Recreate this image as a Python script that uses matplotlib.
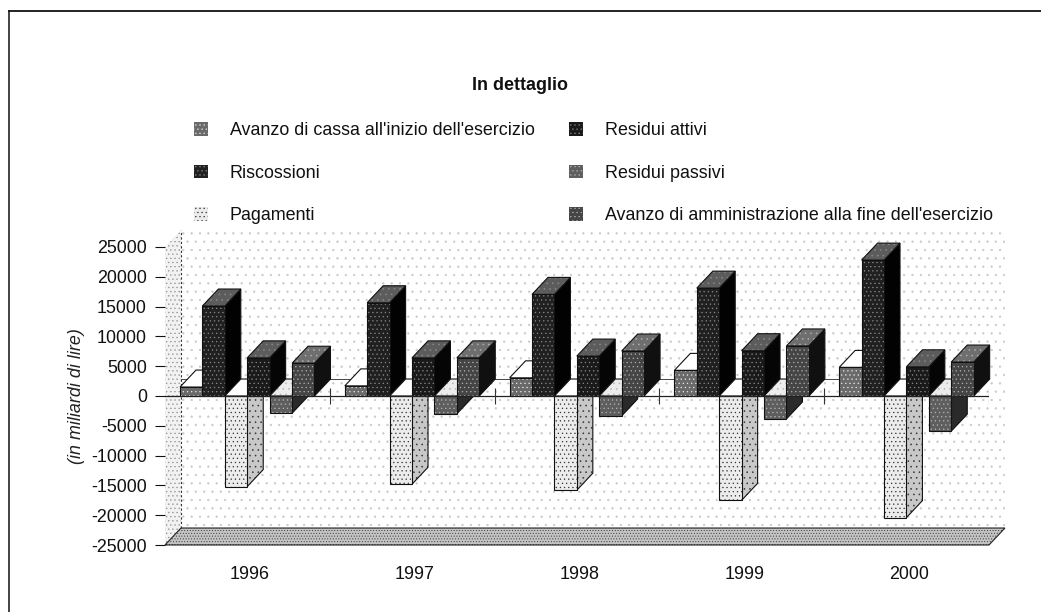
#grafico a barre 3D finto: ogni barra e' fatta con fronte, lato e tetto
import matplotlib
matplotlib.use("Agg")
import matplotlib.pyplot as plt
from matplotlib.patches import Polygon, Patch
from matplotlib.lines import Line2D

plt.rcParams['font.family'] = ['Liberation Sans', 'DejaVu Sans']
plt.rcParams['hatch.linewidth'] = 0.4
plt.rcParams['axes.unicode_minus'] = False

anni = ["1996", "1997", "1998", "1999", "2000"]
avanzo_cassa = [1500, 1700, 3050, 4300, 4800]
riscossioni = [15100, 15650, 17050, 18100, 22800]
pagamenti = [-15200, -14800, -15800, -17500, -20400]
residui_attivi = [6400, 6400, 6700, 7600, 4900]
residui_passivi = [-2900, -3000, -3350, -3850, -5900]
avanzo_amm = [5500, 6400, 7550, 8400, 5700]

nomi = ["Avanzo di cassa all'inizio dell'esercizio", "Riscossioni", "Pagamenti",
        "Residui attivi", "Residui passivi", "Avanzo di amministrazione alla fine dell'esercizio"]
serie = [avanzo_cassa, riscossioni, pagamenti, residui_attivi, residui_passivi, avanzo_amm]
#colori: fronte, lato, tetto, puntini
stili = [("#6a6a6a", "#3c3c3c", "#ffffff", "#e8e8e8"),
         ("#202020", "#020202", "#5c5c5c", "#8a8a8a"),
         ("#ececec", "#c8c8c8", "#ffffff", "#333333"),
         ("#1a1a1a", "#050505", "#5c5c5c", "#8a8a8a"),
         ("#5e5e5e", "#2a2a2a", "#ececec", "#b5b5b5"),
         ("#454545", "#101010", "#6e6e6e", "#b0b0b0")]

LARG = 0.136   #larghezza barra
MARGINE = 0.091
PROF_X = 0.097  #profondita' finta in x
PROF_Y = 2850   #profondita' finta in y
FONT = 12.9

fig = plt.figure(figsize=(10.41, 6.12), dpi=100)
ax = fig.add_axes([165 / 1041, 1 - 545 / 612, 824 / 1041, 298 / 612])
ax.set_xlim(0, 5)
ax.set_ylim(-25000, 25000)

def faccia(punti, colore, puntini, trama="....", bordo="none", z=2):
    ax.add_patch(Polygon(punti, closed=True, facecolor=colore, edgecolor=puntini, hatch=trama,
                         linewidth=0, zorder=z, clip_on=False))
    if bordo != "none":
        ax.add_patch(Polygon(punti, closed=True, facecolor="none", edgecolor=bordo, linewidth=0.8,
                             zorder=z, clip_on=False))

def barra(x, valore, stile, z):
    fronte, lato, tetto, puntini = stile
    cima = max(valore, 0)
    fondo = min(valore, 0)
    bordo = "#111111"
    faccia([(x + LARG, fondo), (x + LARG + PROF_X, fondo + PROF_Y), (x + LARG + PROF_X, cima + PROF_Y),
            (x + LARG, cima)], lato, puntini if fronte == "#ececec" else lato, "...", bordo, z)
    faccia([(x, cima), (x + PROF_X, cima + PROF_Y), (x + LARG + PROF_X, cima + PROF_Y),
            (x + LARG, cima)], tetto, puntini if tetto != "#ffffff" else "#ffffff", "...", bordo, z)
    faccia([(x, fondo), (x, cima), (x + LARG, cima), (x + LARG, fondo)], fronte, puntini, "....", bordo, z)

#pareti e pavimento
faccia([(PROF_X, -25000 + PROF_Y), (PROF_X, 25000 + PROF_Y), (5 + PROF_X, 25000 + PROF_Y),
        (5 + PROF_X, -25000 + PROF_Y)], "#ffffff", "#c8c8c8", "..", z=0)
faccia([(0, -25000), (0, 25000), (PROF_X, 25000 + PROF_Y), (PROF_X, -25000 + PROF_Y)],
       "#f2f2f2", "#8c8c8c", "....", z=0)
faccia([(0, -25000), (PROF_X, -25000 + PROF_Y), (5 + PROF_X, -25000 + PROF_Y), (5, -25000)],
       "#c4c4c4", "#3a3a3a", "......", "#222222", z=1)
ax.plot([PROF_X, PROF_X], [-25000 + PROF_Y, 25000 + PROF_Y], color="#333333", lw=0.8, ls=(0, (2, 2)),
        zorder=1, clip_on=False)
ax.plot([PROF_X, 5], [PROF_Y, PROF_Y], color="#444444", lw=0.7, zorder=1, clip_on=False)

for i in range(len(anni)):
    for s in range(len(serie)):
        barra(i + MARGINE + s * LARG, serie[s][i], stili[s], 3)

#asse dello zero e tacche sulle categorie
ax.axhline(0, color="#222222", lw=0.9, zorder=4)
ax.vlines(range(1, 6), -1300, 1300, color="#333333", lw=0.8, zorder=4)

for lato_ax in ax.spines.values():
    lato_ax.set_visible(False)
ax.set_yticks(range(-25000, 25001, 5000))
ax.set_xticks([i + 0.515 for i in range(len(anni))])
ax.set_xticklabels(anni)
ax.tick_params(axis="x", length=0, pad=15, labelsize=FONT, colors="#111111")
ax.tick_params(axis="y", length=7.2, width=0.8, pad=5.8, labelsize=FONT, colors="#111111")
ax.set_ylabel("(in miliardi di lire)", style="italic", fontsize=FONT, color="#222222", labelpad=4.5)

fig.text(520 / 1041, 1 - 85 / 612, "In dettaglio", fontsize=FONT, fontweight="bold", ha="center",
         va="center", color="#111111")

maniglie = [Patch(facecolor=st[0], edgecolor=st[3], hatch="....", linewidth=0) for st in stili]
fig.legend(maniglie, nomi, ncol=2, frameon=False, fontsize=FONT, handlelength=0.8, handleheight=0.8,
           handletextpad=1.2, labelspacing=1.42, columnspacing=1.9, borderpad=0, borderaxespad=0,
           loc="upper left", bbox_to_anchor=(194 / 1041, 1 - 122 / 612), labelcolor="#111111")

#cornice della pagina acquisita
fig.add_artist(Line2D([9 / 1041, 1], [1 - 11 / 612, 1 - 11 / 612], color="#111111", lw=1.3))
fig.add_artist(Line2D([9 / 1041, 9 / 1041], [1 - 11 / 612, 0], color="#111111", lw=1.1))

fig.savefig("out.png", dpi=100)
